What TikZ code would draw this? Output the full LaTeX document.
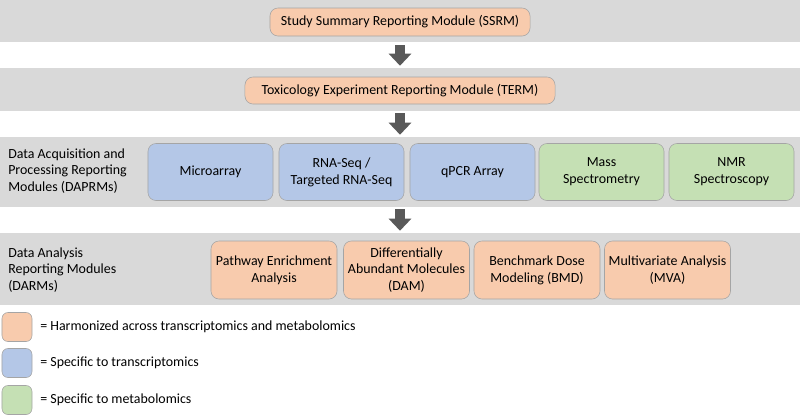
\documentclass[tikz,border=0pt]{standalone}
\usepackage{fontspec}
\setmainfont{Carlito}
\usetikzlibrary{arrows.meta}
\definecolor{bandgray}{HTML}{D9D9D9}
\definecolor{harmon}{HTML}{F8CBAD}
\definecolor{transc}{HTML}{B4C7E7}
\definecolor{metab}{HTML}{C5E0B4}
\definecolor{edgegray}{HTML}{A5A5A5}
\definecolor{arrowgray}{HTML}{595959}

\begin{document}
\begin{tikzpicture}[x=0.025cm,y=-0.025cm]
    \tikzset{band/.style={fill = bandgray,
                minimum width = 20cm,
                inner sep = 0pt},
        module/.style={draw = edgegray,
                rounded corners = 0.2cm,
                align = center,
                inner sep = 1pt,
                font = \fontsize{9.9}{11.9}\selectfont},
        daprm/.style={module,
                minimum width = 3.125cm,
                minimum height = 1.425cm},
        darm/.style={module, fill = harmon,
                minimum width = 3.15cm,
                minimum height = 1.45cm},
        legendbox/.style={draw = edgegray,
                rounded corners = 0.15cm,
                minimum width = 0.75cm,
                minimum height = 0.725cm},
        label/.style={anchor = west, align = left,
                inner sep = 0pt,
                font = \fontsize{9.9}{11.9}\selectfont},
        flow/.style={arrowgray, line width = 0.25cm,
                -{Triangle[width = 0.55cm, length = 0.3cm]}}}
    \useasboundingbox (0,0) rectangle (800,416);
    \node[band, minimum height = 1.05cm] (b1) at (400,21) {};
    \node[band, minimum height = 1.075cm] (b2) at (400,89.5) {};
    \node[band, minimum height = 1.75cm] (b3) at (400,172) {};
    \node[band, minimum height = 1.8cm] (b4) at (400,269) {};
    \node[module, fill = harmon, minimum width = 6.5cm, minimum height = 0.7cm] (ssrm) at (400,22) {Study Summary Reporting Module (SSRM)};
    \node[module, fill = harmon, minimum width = 7.75cm, minimum height = 0.675cm] (term) at (400,90.5) {Toxicology Experiment Reporting Module (TERM)};
    \node[label] (daprmlabel) at (8,171) {Data Acquisition and\\Processing Reporting\\Modules (DAPRMs)};
    \node[daprm, fill = transc] (micro) at (210.5,172) {Microarray};
    \node[daprm, fill = transc] (rnaseq) at (341.5,172) {RNA-Seq /\\Targeted RNA-Seq};
    \node[daprm, fill = transc] (qpcr) at (472.5,172) {qPCR Array};
    \node[daprm, fill = metab] (mass) at (601.5,172) {Mass\\Spectrometry};
    \node[daprm, fill = metab] (nmr) at (731.5,172) {NMR\\Spectroscopy};
    \node[label] (darmlabel) at (8,270) {Data Analysis\\Reporting Modules\\(DARMs)};
    \node[darm] (pathway) at (274,270) {Pathway Enrichment\\Analysis};
    \node[darm] (dam) at (406.5,270) {Differentially\\Abundant Molecules\\(DAM)};
    \node[darm] (bmd) at (537,270) {Benchmark Dose\\Modeling (BMD)};
    \node[darm] (mva) at (667.5,270) {Multivariate Analysis\\(MVA)};
    \node[legendbox, fill = harmon] (lh) at (17,327) {};
    \node[legendbox, fill = transc] (lt) at (17,363) {};
    \node[legendbox, fill = metab] (lm) at (17,400) {};
    \node[label] at (40,327) {= Harmonized across transcriptomics and metabolomics};
    \node[label] at (40,363) {= Specific to transcriptomics};
    \node[label] at (40,400) {= Specific to metabolomics};
    \draw[flow, shorten <= 0.075cm, shorten >= 0.05cm] (b1.south) -- (b2.north);
    \draw[flow, shorten <= 0.05cm, shorten >= 0.05cm] (b2.south) -- (b3.north);
    \draw[flow, shorten <= 0.05cm, shorten >= 0.05cm] (b3.south) -- (b4.north);
\end{tikzpicture}
\end{document}
